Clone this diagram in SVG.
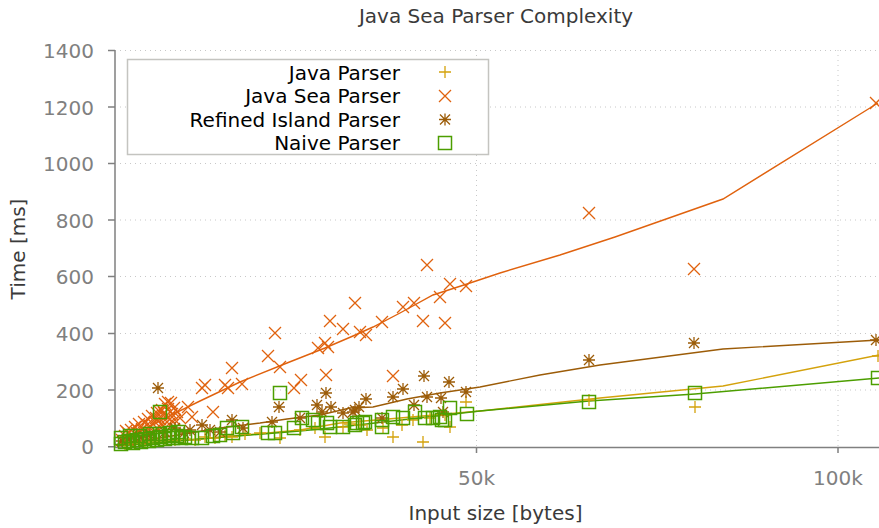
<svg xmlns="http://www.w3.org/2000/svg" xmlns:xlink="http://www.w3.org/1999/xlink" width="879" height="528" viewBox="0 0 879 528">
<style>
text{font-family:"DejaVu Sans","Liberation Sans",sans-serif;font-size:20px}
.tick{fill:#808080}
.lab{fill:#3a3a3a}
.grid{stroke:#c8c8c8;stroke-width:1;stroke-dasharray:1 4;fill:none}
.axis{stroke:#808080;stroke-width:1.5;fill:none}
.jp{stroke:#d4a20c;fill:none;stroke-width:1.3}
.js{stroke:#e0620e;fill:none;stroke-width:1.3}
.ri{stroke:#9c5c08;fill:none;stroke-width:1.3}
.np{stroke:#4c9e00;fill:none;stroke-width:1.5}
.trend{stroke-width:1.4}
</style>
<defs>
<path id="mp" d="M-6,0H6M0,-6V6"/>
<path id="mx" d="M-6,-6L6,6M-6,6L6,-6"/>
<path id="ma" d="M-6,0H6M0,-6V6M-5,-5L5,5M-5,5L5,-5"/>
<rect id="ms" x="-6.5" y="-6.5" width="13" height="13"/>
</defs>
<rect width="879" height="528" fill="#fff"/>
<g id="grid">
<path class="grid" d="M120,50.5H879M120,107H879M120,163.5H879M120,220H879M120,276.5H879M120,333.5H879M120,390H879M476.5,50V447M838,50V447"/>
</g>
<g id="axes">
<path class="axis" d="M115,50V447.5H879M108,50.5H115M108,107H115M108,163.5H115M108,220H115M108,276.5H115M108,333.5H115M108,390H115M108,446.7H115M476.5,447V453M838,447V453"/>
<g class="tick" text-anchor="end">
<text x="94" y="58">1400</text>
<text x="94" y="114.5">1200</text>
<text x="94" y="171">1000</text>
<text x="94" y="227.5">800</text>
<text x="94" y="284">600</text>
<text x="94" y="341">400</text>
<text x="94" y="397.5">200</text>
<text x="94" y="454">0</text>
</g>
<g class="tick" text-anchor="middle">
<text x="476.5" y="485">50k</text>
<text x="838" y="485">100k</text>
</g>
<text class="lab" x="495.5" y="520" text-anchor="middle">Input size [bytes]</text>
<text class="lab" x="25" y="249" text-anchor="middle" transform="rotate(-90 25 249)">Time [ms]</text>
<text class="lab" x="496" y="23" text-anchor="middle">Java Sea Parser Complexity</text>
</g>
<g id="connectors">
<path class="jp trend" d="M117,446L200,439L300,430L340,423L400,418L480,411L600,398L723,386L879,355"/>
<path class="js trend" d="M117,446L140,432L167,417L200,401L240,382L287,363L325,348L353,336L373,327L400,313L433,295L467,284L500,273L560,255L615,237L723,199L878,103"/>
<path class="ri trend" d="M117,445L160,438L220,428L260,423L287,419L320,415L350,408L373,407L407,399L440,393L480,387L540,375L600,365L723,349L879,340"/>
<path class="np trend" d="M117,446L200,439L300,431L340,427L480,411L589,401L695,394L879,378"/>
</g>
<g id="series-java-parser" class="jp">
<use href="#mp" x="878" y="356"/><use href="#mp" x="695" y="407"/><use href="#mp" x="589" y="400"/><use href="#mp" x="466" y="402"/>
<use href="#mp" x="450" y="427"/><use href="#mp" x="423" y="442"/><use href="#mp" x="393" y="437"/><use href="#mp" x="430" y="418"/>
<use href="#mp" x="402" y="425"/><use href="#mp" x="367" y="430"/><use href="#mp" x="343" y="427"/><use href="#mp" x="383" y="428"/>
<use href="#mp" x="413" y="420"/><use href="#mp" x="445" y="415"/><use href="#mp" x="232" y="437"/><use href="#mp" x="280" y="438"/>
<use href="#mp" x="325" y="437"/><use href="#mp" x="125" y="444"/><use href="#mp" x="135" y="443"/><use href="#mp" x="145" y="442"/>
<use href="#mp" x="155" y="441"/><use href="#mp" x="165" y="440"/><use href="#mp" x="175" y="440"/><use href="#mp" x="185" y="439"/>
<use href="#mp" x="195" y="440"/><use href="#mp" x="205" y="437"/><use href="#mp" x="215" y="438"/><use href="#mp" x="225" y="436"/>
<use href="#mp" x="245" y="434"/><use href="#mp" x="260" y="433"/><use href="#mp" x="300" y="430"/><use href="#mp" x="315" y="428"/>
<use href="#mp" x="350" y="424"/><use href="#mp" x="360" y="425"/>
</g>
<g id="series-java-sea-parser" class="js">
<use href="#mx" x="876" y="103"/><use href="#mx" x="589" y="213"/><use href="#mx" x="694" y="269"/><use href="#mx" x="427" y="265"/>
<use href="#mx" x="450" y="284"/><use href="#mx" x="466" y="286"/><use href="#mx" x="355" y="303"/><use href="#mx" x="403" y="307"/>
<use href="#mx" x="414" y="303"/><use href="#mx" x="440" y="297"/><use href="#mx" x="423" y="321"/><use href="#mx" x="445" y="323"/>
<use href="#mx" x="382" y="322"/><use href="#mx" x="343" y="329"/><use href="#mx" x="360" y="332"/><use href="#mx" x="366" y="335"/>
<use href="#mx" x="330" y="321"/><use href="#mx" x="393" y="376"/><use href="#mx" x="275" y="333"/><use href="#mx" x="268" y="356"/>
<use href="#mx" x="280" y="367"/><use href="#mx" x="232" y="368"/><use href="#mx" x="242" y="384"/><use href="#mx" x="228" y="388"/>
<use href="#mx" x="202" y="388"/><use href="#mx" x="205" y="385"/><use href="#mx" x="213" y="412"/><use href="#mx" x="294" y="388"/>
<use href="#mx" x="301" y="380"/><use href="#mx" x="326" y="375"/><use href="#mx" x="318" y="348"/><use href="#mx" x="325" y="343"/>
<use href="#mx" x="328" y="347"/><use href="#mx" x="225" y="385"/><use href="#mx" x="188" y="407"/><use href="#mx" x="192" y="417"/>
<use href="#mx" x="168" y="402"/><use href="#mx" x="165" y="404"/><use href="#mx" x="160" y="412"/>
<use href="#mx" x="122" y="440"/><use href="#mx" x="125" y="436"/><use href="#mx" x="128" y="433"/><use href="#mx" x="128" y="440"/>
<use href="#mx" x="131" y="430"/><use href="#mx" x="133" y="436"/><use href="#mx" x="135" y="427"/><use href="#mx" x="137" y="433"/>
<use href="#mx" x="139" y="424"/><use href="#mx" x="140" y="438"/><use href="#mx" x="142" y="429"/><use href="#mx" x="144" y="422"/>
<use href="#mx" x="146" y="432"/><use href="#mx" x="148" y="419"/><use href="#mx" x="150" y="426"/><use href="#mx" x="152" y="416"/>
<use href="#mx" x="153" y="434"/><use href="#mx" x="155" y="422"/><use href="#mx" x="157" y="413"/><use href="#mx" x="158" y="429"/>
<use href="#mx" x="160" y="419"/><use href="#mx" x="162" y="410"/><use href="#mx" x="163" y="426"/><use href="#mx" x="166" y="416"/>
<use href="#mx" x="168" y="409"/><use href="#mx" x="169" y="424"/><use href="#mx" x="171" y="403"/><use href="#mx" x="172" y="414"/>
<use href="#mx" x="174" y="408"/><use href="#mx" x="175" y="420"/><use href="#mx" x="177" y="412"/><use href="#mx" x="180" y="418"/>
<use href="#mx" x="138" y="430"/><use href="#mx" x="147" y="425"/><use href="#mx" x="156" y="418"/><use href="#mx" x="164" y="413"/>
<use href="#mx" x="170" y="419"/><use href="#mx" x="126" y="431"/><use href="#mx" x="143" y="435"/><use href="#mx" x="161" y="424"/>
</g>
<g id="series-refined-island-parser" class="ri">
<use href="#ma" x="876" y="340"/><use href="#ma" x="589" y="360"/><use href="#ma" x="694" y="343"/><use href="#ma" x="424" y="376"/>
<use href="#ma" x="449" y="382"/><use href="#ma" x="403" y="389"/><use href="#ma" x="466" y="392"/><use href="#ma" x="366" y="399"/>
<use href="#ma" x="393" y="397"/><use href="#ma" x="427" y="397"/><use href="#ma" x="441" y="398"/><use href="#ma" x="414" y="405"/>
<use href="#ma" x="359" y="407"/><use href="#ma" x="355" y="410"/><use href="#ma" x="343" y="413"/><use href="#ma" x="382" y="418"/>
<use href="#ma" x="443" y="412"/><use href="#ma" x="326" y="393"/><use href="#ma" x="279" y="407"/><use href="#ma" x="317" y="405"/>
<use href="#ma" x="331" y="407"/><use href="#ma" x="353" y="412"/><use href="#ma" x="232" y="420"/><use href="#ma" x="272" y="422"/>
<use href="#ma" x="300" y="418"/><use href="#ma" x="322" y="412"/><use href="#ma" x="202" y="425"/><use href="#ma" x="243" y="428"/>
<use href="#ma" x="158" y="388"/><use href="#ma" x="184" y="433"/><use href="#ma" x="165" y="432"/><use href="#ma" x="150" y="435"/>
<use href="#ma" x="140" y="437"/><use href="#ma" x="130" y="439"/><use href="#ma" x="122" y="441"/><use href="#ma" x="175" y="428"/>
<use href="#ma" x="190" y="430"/><use href="#ma" x="210" y="430"/><use href="#ma" x="220" y="432"/>
</g>
<g id="series-naive-parser" class="np">
<use href="#ms" x="878" y="378"/><use href="#ms" x="695" y="393"/><use href="#ms" x="589" y="402"/><use href="#ms" x="280" y="393"/>
<use href="#ms" x="160" y="412"/><use href="#ms" x="302" y="418"/><use href="#ms" x="313" y="420"/><use href="#ms" x="393" y="417"/>
<use href="#ms" x="403" y="418"/><use href="#ms" x="415" y="412"/><use href="#ms" x="425" y="418"/><use href="#ms" x="433" y="418"/>
<use href="#ms" x="442" y="420"/><use href="#ms" x="450" y="408"/><use href="#ms" x="467" y="414"/><use href="#ms" x="382" y="420"/>
<use href="#ms" x="357" y="423"/><use href="#ms" x="363" y="423"/><use href="#ms" x="318" y="423"/><use href="#ms" x="242" y="427"/>
<use href="#ms" x="227" y="428"/><use href="#ms" x="343" y="427"/><use href="#ms" x="355" y="425"/><use href="#ms" x="365" y="422"/>
<use href="#ms" x="382" y="427"/><use href="#ms" x="440" y="417"/><use href="#ms" x="445" y="420"/><use href="#ms" x="233" y="433"/>
<use href="#ms" x="268" y="433"/><use href="#ms" x="275" y="433"/><use href="#ms" x="294" y="428"/><use href="#ms" x="327" y="423"/>
<use href="#ms" x="330" y="427"/>
<use href="#ms" x="121" y="444"/><use href="#ms" x="125" y="442"/><use href="#ms" x="129" y="441"/><use href="#ms" x="133" y="443"/>
<use href="#ms" x="137" y="440"/><use href="#ms" x="141" y="442"/><use href="#ms" x="145" y="439"/><use href="#ms" x="149" y="441"/>
<use href="#ms" x="153" y="438"/><use href="#ms" x="157" y="440"/><use href="#ms" x="161" y="437"/><use href="#ms" x="165" y="439"/>
<use href="#ms" x="169" y="436"/><use href="#ms" x="173" y="438"/><use href="#ms" x="177" y="436"/><use href="#ms" x="181" y="438"/>
<use href="#ms" x="185" y="437"/><use href="#ms" x="121" y="438"/><use href="#ms" x="130" y="436"/><use href="#ms" x="140" y="436"/>
<use href="#ms" x="150" y="434"/><use href="#ms" x="160" y="434"/><use href="#ms" x="170" y="433"/><use href="#ms" x="178" y="432"/>
<use href="#ms" x="192" y="438"/><use href="#ms" x="202" y="438"/><use href="#ms" x="213" y="436"/><use href="#ms" x="220" y="435"/>
</g>
<g id="legend">
<rect x="127.5" y="59.5" width="361" height="95" fill="#fff" stroke="#c4c4c0" stroke-width="1.5"/>
<g text-anchor="end" fill="#000">
<text x="400" y="79.5">Java Parser</text>
<text x="400" y="103">Java Sea Parser</text>
<text x="400" y="126.5">Refined Island Parser</text>
<text x="400" y="150">Naive Parser</text>
</g>
<use href="#mp" x="445" y="72" class="jp"/>
<use href="#mx" x="445" y="96" class="js"/>
<use href="#ma" x="445" y="119.5" class="ri"/>
<use href="#ms" x="445" y="143" class="np"/>
</g>
</svg>
